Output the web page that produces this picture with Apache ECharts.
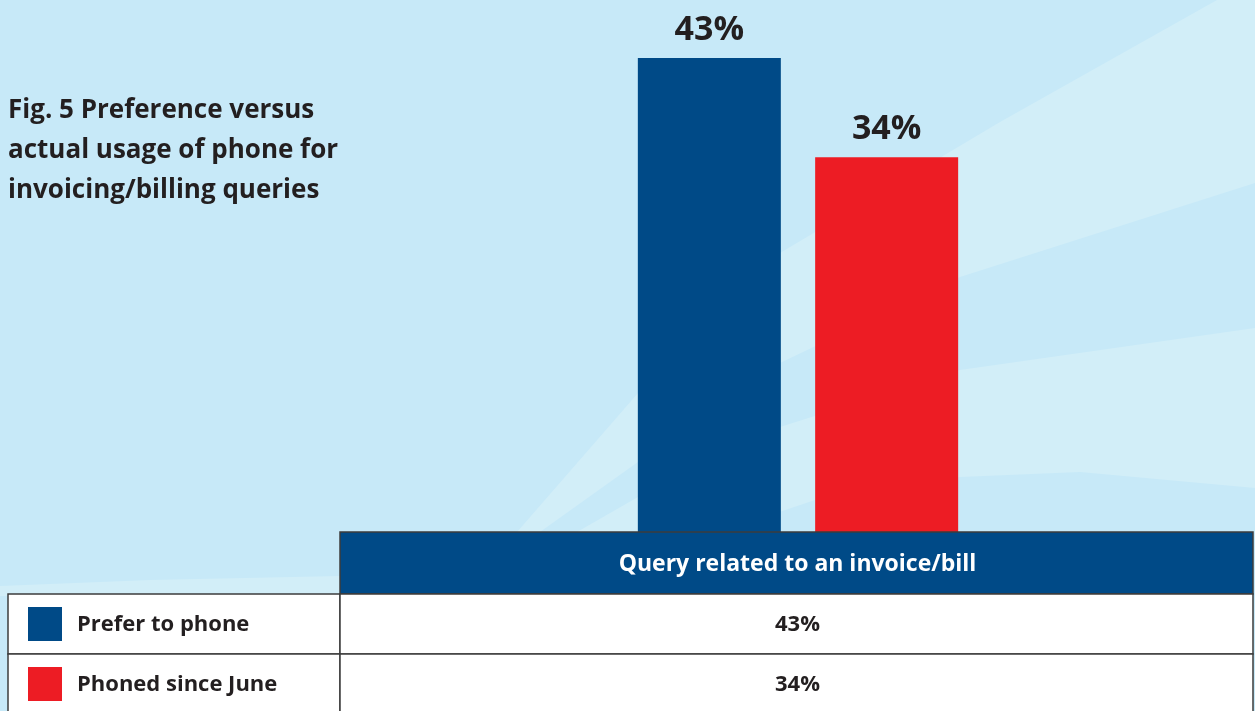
<!DOCTYPE html>
<html>
<head>
<meta charset="utf-8">
<script src="https://cdn.jsdelivr.net/npm/echarts@6/dist/echarts.min.js"></script>
<style>
html,body{margin:0;padding:0;background:#C7E9F8;}
#chart{width:1255px;height:711px;}
</style>
</head>
<body>
<div id="chart"></div>
<script>
// ---- data ----
var titleLines = ['Fig. 5 Preference versus', 'actual usage of phone for', 'invoicing/billing queries'];
var categories = ['Query related to an invoice/bill'];
var seriesNames = ['Prefer to phone', 'Phoned since June'];
var preferValues = [43];
var phonedValues = [34];
var seriesColors = ['#004A87', '#ED1C24'];

var chart = echarts.init(document.getElementById('chart'), null, {renderer: 'canvas'});

var FONT = '"Open Sans", Lato, "DejaVu Sans", sans-serif';
var TXT = '#231F20';
var LIGHT = '#D2EEF8';
var BORDER = '#3C3C3C';

// layout constants for the table
var tblLeft = 8, colX = 340, tblRight = 1253;
var headTop = 532, headBottom = 594, rowH = 60;

var graphics = [];
// background light waves (decorative)
graphics.push({type:'polygon', z:0, silent:true, shape:{points:[[517,532],[638,393],[780,253],[1000,122],[1217,0],[1255,0],[1255,183],[960,277],[780,363],[638,462],[540,532]]}, style:{fill:LIGHT}});
graphics.push({type:'polygon', z:0, silent:true, shape:{points:[[577,532],[638,497],[780,427],[960,370],[1255,328],[1255,488],[1080,472],[960,477],[815,500],[720,532]]}, style:{fill:LIGHT}});
graphics.push({type:'polygon', z:0, silent:true, shape:{points:[[0,586],[150,580],[340,576],[340,596],[0,596]]}, style:{fill:LIGHT}});

// title
titleLines.forEach(function(t, i){
  graphics.push({type:'text', z:5, x:8, y:111 + i*40, style:{text:t, fill:TXT, font:'bold 26px ' + FONT, verticalAlign:'middle'}});
});

// table header
graphics.push({type:'rect', z:5, shape:{x:colX, y:headTop, width:tblRight-colX, height:headBottom-headTop}, style:{fill:seriesColors[0], stroke:BORDER, lineWidth:1.5}});
graphics.push({type:'text', z:6, x:(colX+tblRight)/2 + 1, y:(headTop+headBottom)/2 + 1, style:{text:categories[0], fill:'#FFFFFF', font:'bold 23px ' + FONT, align:'center', verticalAlign:'middle'}});

var rowValues = [preferValues, phonedValues];
seriesNames.forEach(function(name, i){
  var y0 = headBottom + i*rowH;
  graphics.push({type:'rect', z:5, shape:{x:tblLeft, y:y0, width:colX-tblLeft, height:rowH+(i===1?20:0)}, style:{fill:'#FFFFFF', stroke:BORDER, lineWidth:1.5}});
  graphics.push({type:'rect', z:5, shape:{x:colX, y:y0, width:tblRight-colX, height:rowH+(i===1?20:0)}, style:{fill:'#FFFFFF', stroke:BORDER, lineWidth:1.5}});
  graphics.push({type:'rect', z:6, shape:{x:28, y:y0+13, width:34, height:34}, style:{fill:seriesColors[i]}});
  graphics.push({type:'text', z:6, x:77, y:y0+31, style:{text:name, fill:TXT, font:'bold 22px ' + FONT, verticalAlign:'middle'}});
  graphics.push({type:'text', z:6, x:(colX+tblRight)/2 + 1, y:y0+31, style:{text:rowValues[i][0] + '%', fill:TXT, font:'bold 22px ' + FONT, align:'center', verticalAlign:'middle'}});
});

var option = {
  backgroundColor: '#C7E9F8',
  animation: false,
  grid: {left: 342, right: 1, top: 36, bottom: 711 - headTop},
  xAxis: {type:'category', data: categories, show:false},
  yAxis: {type:'value', min:0, max:45, show:false},
  graphic: graphics,
  series: [
    {name: seriesNames[0], type:'bar', data: preferValues, barWidth:143, barGap:'24%',
     itemStyle:{color: seriesColors[0]},
     label:{show:true, position:'top', distance:11, formatter:'{c}%', color:TXT, fontFamily:FONT, fontWeight:'bold', fontSize:34}},
    {name: seriesNames[1], type:'bar', data: phonedValues, barWidth:143, barGap:'24%',
     itemStyle:{color: seriesColors[1]},
     label:{show:true, position:'top', distance:11, formatter:'{c}%', color:TXT, fontFamily:FONT, fontWeight:'bold', fontSize:34}}
  ]
};
chart.setOption(option);
</script>
</body>
</html>
